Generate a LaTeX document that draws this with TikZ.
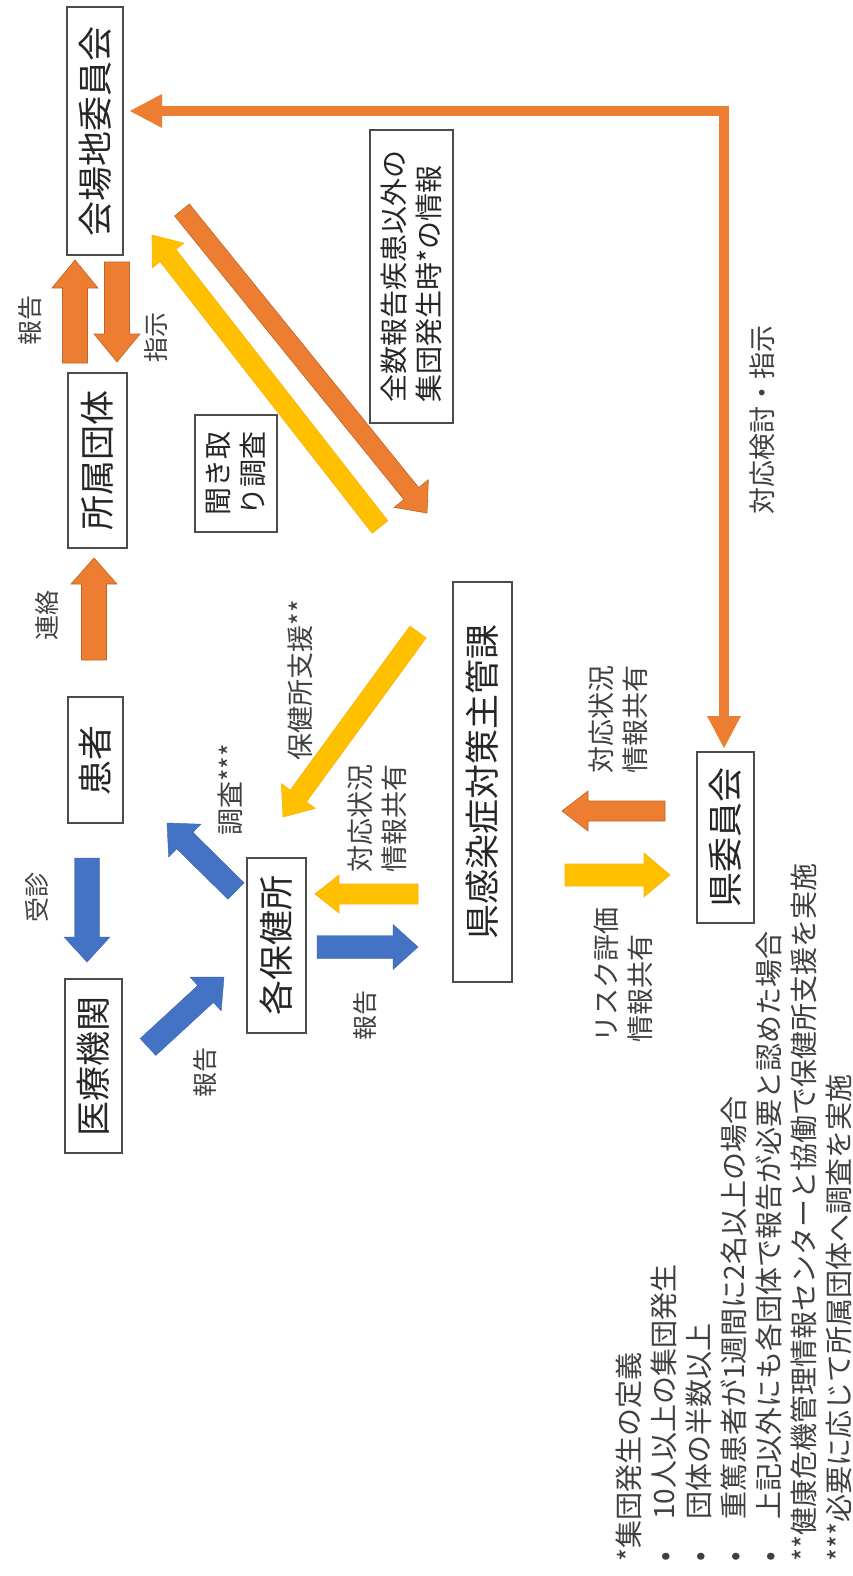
\documentclass[tikz,border=0pt]{standalone}
\usepackage{fontspec}
\setmainfont{Noto Sans CJK JP}
\usetikzlibrary{calc,arrows.meta}
\definecolor{ora}{HTML}{ED7D31}
\definecolor{yel}{HTML}{FFC000}
\definecolor{blu}{HTML}{4472C4}
% block arrow: style, tail, tip, half shaft width, half head width, head length
\newcommand{\barrow}[6]{%
  \coordinate (bn) at ($(#3)!#6!(#2)$);
  \filldraw[#1] ($(#2)!#4!90:(#3)$) -- ($(bn)!#4!90:(#3)$) -- ($(bn)!#5!90:(#3)$) -- (#3)
    -- ($(bn)!#5!-90:(#3)$) -- ($(bn)!#4!-90:(#3)$) -- ($(#2)!#4!-90:(#3)$) -- cycle;}
\tikzset{
  box/.style={draw=black!70, line width=1.2pt, fill=white, inner sep=0pt, rotate=90,
    text=black!85, font=\fontsize{35}{42}\selectfont},
  sbox/.style={box, font=\fontsize{28}{35}\selectfont, align=left},
  lbl/.style={rotate=90, inner sep=0pt, text=black!75, font=\fontsize{25}{31}\selectfont},
  lbl2/.style={lbl, font=\fontsize{27}{34}\selectfont, align=left},
  oarr/.style={fill=ora, draw=ora!80!black, line width=0.6pt},
  yarr/.style={fill=yel, draw=yel!80!ora, line width=0.6pt},
  barr/.style={fill=blu, draw=blu!85!black, line width=0.4pt},
  conn/.style={draw=ora, line width=10pt,
    arrows={Triangle[length=32pt,width=34pt,line width=0pt]-Triangle[length=32pt,width=34pt,line width=0pt]}}
}
\begin{document}
\begin{tikzpicture}[x=1pt,y=-1pt]
\fill[white] (0,0) rectangle (852,1576);
\useasboundingbox (0,0) rectangle (852,1576);

% boxes
\node[box, minimum width=248pt, minimum height=56pt] (kaijo) at (95,131) {会場地委員会};
\node[box, minimum width=175pt, minimum height=59pt] (shozoku) at (97.5,460.5) {所属団体};
\node[box, minimum width=126pt, minimum height=55pt] (kanja) at (95.5,760) {患者};
\node[box, minimum width=174pt, minimum height=57pt] (iryo) at (93.5,1066) {医療機関};
\node[box, minimum width=175pt, minimum height=59pt] (hoken) at (276.5,945.5) {各保健所};
\node[box, minimum width=400pt, minimum height=59pt] (kenka) at (482.5,782) {県感染症対策主管課};
\node[box, minimum width=171pt, minimum height=57pt] (keniin) at (725.5,837.5) {県委員会};
\node[sbox, minimum width=293pt, minimum height=83pt] (zensu) at (411.5,276.5) {全数報告疾患以外の\\集団発生時*の情報};
\node[sbox, minimum width=117pt, minimum height=82pt] (kiki) at (236,473.5) {聞き取\\り調査};

% long connector between 会場地委員会 and 県委員会
\coordinate (cA) at (130,111);
\coordinate (cB) at (724,748);
\draw[conn] (cA) -| (cB);

% orange block arrows
\coordinate (a1s) at (75,363);  \coordinate (a1e) at (75,260);
\barrow{oarr}{a1s}{a1e}{12.5pt}{23pt}{28pt}
\coordinate (a2s) at (117,262); \coordinate (a2e) at (117,362);
\barrow{oarr}{a2s}{a2e}{12.5pt}{23pt}{28pt}
\coordinate (a3s) at (94,660);  \coordinate (a3e) at (94,558);
\barrow{oarr}{a3s}{a3e}{12.5pt}{23pt}{26pt}
\coordinate (a4s) at (182,210); \coordinate (a4e) at (427,513);
\barrow{oarr}{a4s}{a4e}{9.5pt}{22pt}{25pt}
\coordinate (a5s) at (665,811); \coordinate (a5e) at (562,811);
\barrow{oarr}{a5s}{a5e}{10pt}{20pt}{26pt}

% yellow block arrows
\coordinate (y1s) at (380,527); \coordinate (y1e) at (152,235);
\barrow{yarr}{y1s}{y1e}{10pt}{20pt}{26pt}
\coordinate (y2s) at (418,632); \coordinate (y2e) at (283,817);
\barrow{yarr}{y2s}{y2e}{10pt}{21pt}{26pt}
\coordinate (y3s) at (418,894); \coordinate (y3e) at (315,894);
\barrow{yarr}{y3s}{y3e}{10pt}{19pt}{24pt}
\coordinate (y4s) at (565,875); \coordinate (y4e) at (670,875);
\barrow{yarr}{y4s}{y4e}{11pt}{22pt}{26pt}

% blue block arrows
\coordinate (b1s) at (87,858);   \coordinate (b1e) at (87,962);
\barrow{barr}{b1s}{b1e}{12.5pt}{23pt}{25pt}
\coordinate (b2s) at (148,1047); \coordinate (b2e) at (224,977);
\barrow{barr}{b2s}{b2e}{11.5pt}{23pt}{25pt}
\coordinate (b3s) at (236,891);  \coordinate (b3e) at (167,823);
\barrow{barr}{b3s}{b3e}{11.5pt}{23pt}{25pt}
\coordinate (b4s) at (317,947);  \coordinate (b4e) at (418,947);
\barrow{barr}{b4s}{b4e}{11.5pt}{22.5pt}{25pt}

% labels
\node[lbl] (l1) at (30,320) {報告};
\node[lbl] (l2) at (156,337) {指示};
\node[lbl] (l3) at (47,615) {連絡};
\node[lbl] (l4) at (37,897) {受診};
\node[lbl] (l5) at (205,1072) {報告};
\node[lbl2] (l6) at (230,790) {調査***};
\node[lbl2] (l7) at (300,680) {保健所支援**};
\node[lbl2] (l8) at (377,818) {対応状況\\情報共有};
\node[lbl] (l9) at (365,1015) {報告};
\node[lbl2] (l10) at (618,719) {対応状況\\情報共有};
\node[lbl2] (l11) at (623,975) {リスク評価\\情報共有};
\node[lbl2] (l12) at (762,420) {対応検討・指示};

% footnotes
\node[rotate=90, anchor=north west, inner sep=0pt, align=left, text=black!75,
  font=\fontsize{28}{35}\selectfont] (notes) at (616,1562)
  {*集団発生の定義\\
   \makebox[42pt][l]{•}10人以上の集団発生\\
   \makebox[42pt][l]{•}団体の半数以上\\
   \makebox[42pt][l]{•}重篤患者が1週間に2名以上の場合\\
   \makebox[42pt][l]{•}上記以外にも各団体で報告が必要と認めた場合\\
   **健康危機管理情報センターと協働で保健所支援を実施\\
   ***必要に応じて所属団体へ調査を実施};
\end{tikzpicture}
\end{document}
